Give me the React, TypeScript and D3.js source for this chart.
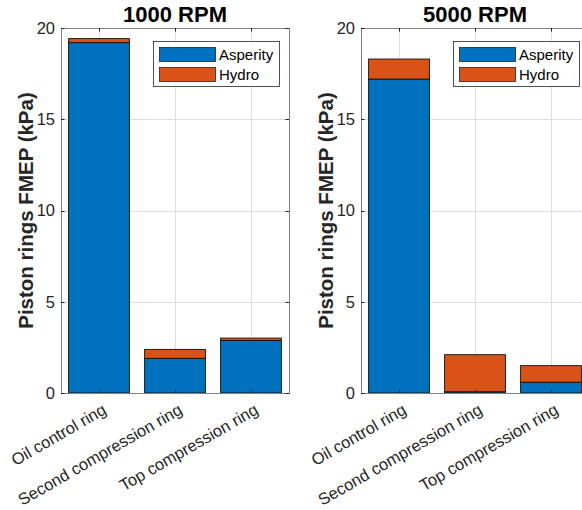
import React from 'react';
import * as d3 from 'd3';

// ring categories and FMEP values (kPa)
const categories = ['Oil control ring', 'Second compression ring', 'Top compression ring'];
const asperity1000 = [19.2, 1.9, 2.88];
const hydro1000 = [0.22, 0.49, 0.13];
const asperity5000 = [17.2, 0.07, 0.59];
const hydro5000 = [1.1, 2.03, 0.91];
const yTicks = [0, 5, 10, 15, 20];
const seriesNames = ['Asperity', 'Hydro'];
const colors = ['#0072BD', '#D95319'];

const FONT = '"Liberation Sans", Arial, Helvetica, sans-serif';

const top = 28, bottom = 393, axW = 228;

const Panel = ({ x0, title, asperity, hydro }) => {
  const x = d3.scaleBand().domain(categories).range([x0, x0 + axW]).paddingInner(0.2).paddingOuter(0.1);
  const y = d3.scaleLinear().domain([0, 20]).range([bottom, top]);
  const stacked = d3.stack().keys(['a', 'h'])(categories.map((c, i) => ({ cat: c, a: asperity[i], h: hydro[i] })));
  const xr = x0 + axW;
  const tickLen = 3.6;
  const lx = x0 + 92, ly = 41;
  return (
    <g fontFamily={FONT}>
      {/* grid */}
      {categories.map(c => {
        const cx = Math.round(x(c) + x.bandwidth() / 2) + 0.5;
        return <line key={'gx' + c} x1={cx} x2={cx} y1={top} y2={bottom} stroke="#dedede" />;
      })}
      {yTicks.map(t => (
        <line key={'gy' + t} x1={x0} x2={xr} y1={Math.round(y(t)) + 0.5} y2={Math.round(y(t)) + 0.5} stroke="#dedede" />
      ))}
      {/* bars */}
      {stacked.map((layer, li) => layer.map((d, i) => (
        <rect key={li + '-' + i} x={x(categories[i])} width={x.bandwidth()}
          y={y(d[1])} height={y(d[0]) - y(d[1])}
          fill={colors[li]} stroke="#111" strokeWidth={0.9} />
      )))}
      {/* axes box */}
      <rect x={x0 + 0.5} y={top + 0.5} width={axW} height={bottom - top} fill="none" stroke="#808080" />
      {categories.map(c => {
        const cx = Math.round(x(c) + x.bandwidth() / 2) + 0.5;
        return (
          <g key={'t' + c}>
            <line x1={cx} x2={cx} y1={bottom} y2={bottom - tickLen} stroke="#262626" />
            <line x1={cx} x2={cx} y1={top} y2={top + tickLen} stroke="#262626" />
            <text transform={`translate(${cx + 8},413) rotate(-30)`} textAnchor="end" fontSize={16.5} fill="#262626">{c}</text>
          </g>
        );
      })}
      {yTicks.map(t => (
        <g key={'yt' + t}>
          <line x1={x0} x2={x0 + tickLen} y1={Math.round(y(t)) + 0.5} y2={Math.round(y(t)) + 0.5} stroke="#262626" />
          <line x1={xr} x2={xr - tickLen} y1={Math.round(y(t)) + 0.5} y2={Math.round(y(t)) + 0.5} stroke="#262626" />
          <text x={x0 - 6} y={y(t)} dy="0.35em" textAnchor="end" fontSize={16.5} fill="#262626">{t}</text>
        </g>
      ))}
      {/* title and y label */}
      <text x={x0 + axW / 2} y={22} textAnchor="middle" fontSize={22} fontWeight="bold" fill="#000">{title}</text>
      <text transform={`translate(${x0 - 28},${(top + bottom) / 2}) rotate(-90)`} textAnchor="middle" fontSize={20.5} fontWeight="bold" fill="#262626">Piston rings FMEP (kPa)</text>
      {/* legend */}
      <rect x={lx + 0.5} y={ly + 0.5} width={126} height={45} fill="#fff" stroke="#262626" strokeWidth={0.8} />
      {seriesNames.map((s, i) => (
        <g key={s}>
          <rect x={lx + 6.5} y={ly + 6.5 + i * 20} width={56} height={14} fill={colors[i]} stroke="#222" strokeWidth={0.8} />
          <text x={lx + 66} y={ly + 13.5 + i * 20} dy="0.35em" fontSize={15} fill="#000">{s}</text>
        </g>
      ))}
    </g>
  );
};

export default function App() {
  return (
    <svg width={582} height={510} style={{ position: 'absolute', left: 0, top: 0, background: '#fff' }}>
      <rect width={582} height={510} fill="#fff" />
      <Panel x0={61} title="1000 RPM" asperity={asperity1000} hydro={hydro1000} />
      <Panel x0={361} title="5000 RPM" asperity={asperity5000} hydro={hydro5000} />
    </svg>
  );
}
